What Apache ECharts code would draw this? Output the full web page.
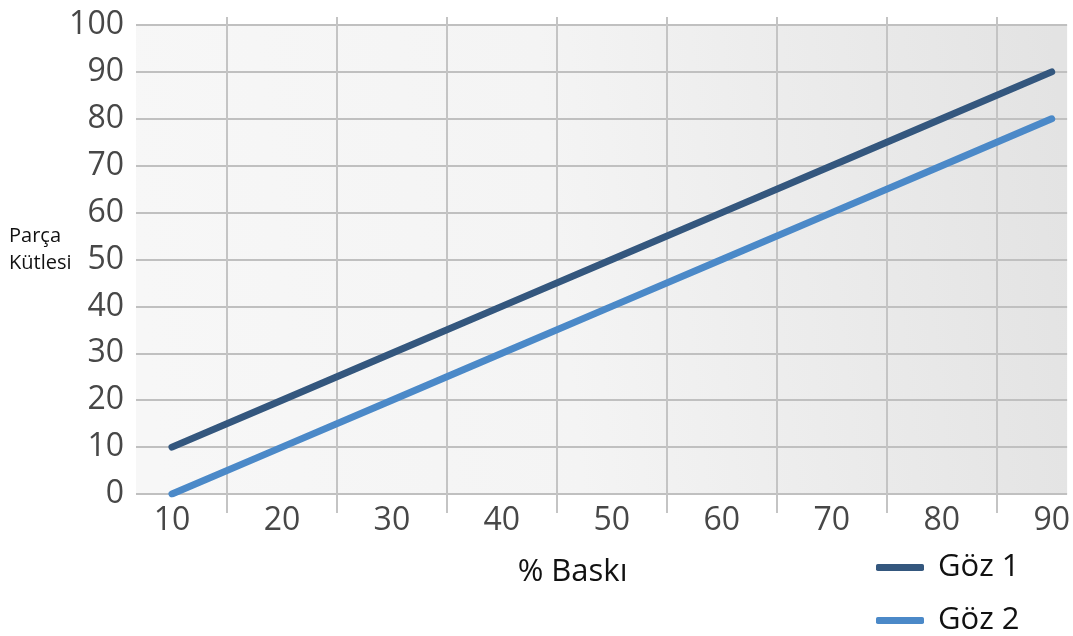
<!DOCTYPE html>
<html><head><meta charset="utf-8">
<script src="https://cdn.jsdelivr.net/npm/echarts@6/dist/echarts.min.js"></script>
<style>html,body{margin:0;padding:0;background:#fff}#c{width:1073px;height:636px}</style>
</head><body><div id="c"></div>
<script>
const xValues = [10, 20, 30, 40, 50, 60, 70, 80, 90];
const goz1 = [10, 20, 30, 40, 50, 60, 70, 80, 90];
const goz2 = [0, 10, 20, 30, 40, 50, 60, 70, 80];
const xTickLabels = [10, 20, 30, 40, 50, 60, 70, 80, 90];
const xGridValues = [15, 25, 35, 45, 55, 65, 75, 85];
const seriesNames = ['Göz 1', 'Göz 2'];
const xName = '% Baskı';
const yName = 'Parça\nKütlesi';

const FONT = 'Open Sans';
const chart = echarts.init(document.getElementById('c'));
const pair = arr => xValues.map((x, i) => [x, arr[i]]);
chart.setOption({
  animation: false,
  title: {
    text: yName, left: 9, top: 223, padding: 0,
    textStyle: {fontFamily: FONT, fontSize: 20, fontWeight: 'normal', color: '#111', lineHeight: 27}
  },
  grid: {
    left: 136, right: 5, top: 25, bottom: 142, show: true, borderWidth: 0,
    backgroundColor: new echarts.graphic.LinearGradient(0, 0.5, 1, 0.3, [
      {offset: 0, color: '#f7f7f7'}, {offset: 0.45, color: '#f4f4f4'}, {offset: 1, color: '#e3e3e3'}
    ])
  },
  legend: {
    orient: 'vertical', left: 876, top: 552, width: 190, height: 90, itemWidth: 48, itemHeight: 7, itemGap: 22,
    padding: 0, icon: 'roundRect',
    textStyle: {fontFamily: FONT, fontSize: 31, color: '#111', padding: [0, 0, 0, 9]},
    data: seriesNames
  },
  xAxis: [{
    type: 'value', min: 6.73, max: 91.4,
    name: xName, nameLocation: 'middle', nameGap: 63,
    nameTextStyle: {fontFamily: FONT, fontSize: 31, color: '#111', padding: [0, 58, 0, 0]},
    axisLine: {show: false},
    splitLine: {show: false},
    axisTick: {show: true, customValues: xGridValues, length: 19, lineStyle: {color: '#c4c4c4', width: 2}},
    axisLabel: {customValues: xTickLabels, fontFamily: FONT, fontSize: 32, color: '#474747', margin: 11}
  }, {
    type: 'value', min: 6.73, max: 91.4, position: 'bottom',
    axisLine: {show: false}, splitLine: {show: false}, axisLabel: {show: false},
    axisTick: {show: true, inside: true, customValues: xGridValues, length: 477, lineStyle: {color: '#c4c4c4', width: 2}}
  }],
  yAxis: {
    type: 'value', min: 0, max: 100, interval: 10,
    axisLine: {show: false}, axisTick: {show: false},
    axisLabel: {fontFamily: FONT, fontSize: 32, color: '#474747', margin: 12},
    splitLine: {lineStyle: {color: '#c0c0c0', width: 2}}
  },
  series: [{
    name: seriesNames[0], type: 'line', data: pair(goz1), showSymbol: false, symbol: 'none',
    color: '#34577e', lineStyle: {width: 7, cap: 'round', color: '#34577e'}
  }, {
    name: seriesNames[1], type: 'line', data: pair(goz2), showSymbol: false, symbol: 'none',
    color: '#4b89c8', lineStyle: {width: 7, cap: 'round', color: '#4b89c8'}
  }]
});
</script></body></html>
